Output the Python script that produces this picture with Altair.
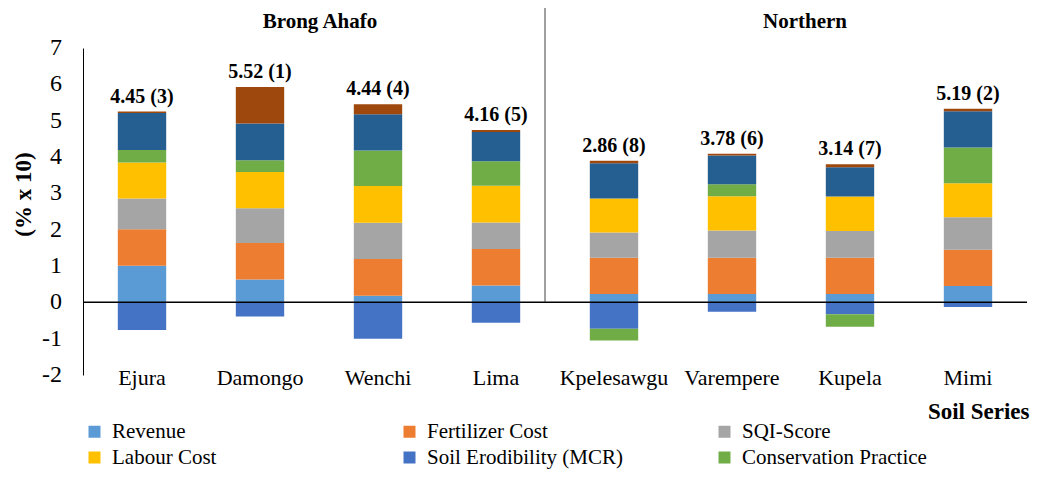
import altair as alt
import pandas as pd

soils = ["Ejura", "Damongo", "Wenchi", "Lima", "Kpelesawgu", "Varempere", "Kupela", "Mimi"]
regions = ["Brong Ahafo", "Northern"]

series_names = ["Revenue", "Fertilizer Cost", "SQI-Score", "Labour Cost",
                "Soil Erodibility (MCR)", "Conservation Practice", "Series 7", "Series 8"]
series_colors = ["#5B9BD5", "#ED7D31", "#A5A5A5", "#FFC000",
                 "#4472C4", "#70AD47", "#255E91", "#9E480E"]
# legend fills column by column: (Revenue, Labour), (Fertilizer, Erodibility), (SQI, Conservation)
legend_names = ["Revenue", "Labour Cost", "Fertilizer Cost",
                "Soil Erodibility (MCR)", "SQI-Score", "Conservation Practice"]

revenue = [1.01, 0.63, 0.18, 0.46, 0.23, 0.23, 0.23, 0.45]
fertilizer = [1.00, 1.00, 1.01, 1.01, 1.00, 1.00, 1.00, 1.00]
sqi = [0.85, 0.96, 1.00, 0.73, 0.69, 0.75, 0.73, 0.89]
labour = [0.99, 1.00, 1.01, 1.01, 0.94, 0.94, 0.95, 0.94]
erodibility = [-0.76, -0.39, -1.00, -0.56, -0.73, -0.26, -0.33, -0.13]
conservation = [0.34, 0.32, 0.98, 0.67, -0.32, 0.33, -0.34, 0.98]
series7 = [1.02, 1.01, 1.00, 0.81, 0.97, 0.79, 0.81, 1.00]
series8 = [0.04, 1.01, 0.27, 0.05, 0.07, 0.05, 0.08, 0.07]

scores = [4.45, 5.52, 4.44, 4.16, 2.86, 3.78, 3.14, 5.19]
ranks = [3, 1, 4, 5, 8, 6, 7, 2]

y_ticks = [-2, -1, 0, 1, 2, 3, 4, 5, 6, 7]

FONT = "Liberation Serif"

all_series = [revenue, fertilizer, sqi, labour, erodibility, conservation, series7, series8]
rows = []
for si, (name, vals) in enumerate(zip(series_names, all_series)):
    for soil, v in zip(soils, vals):
        rows.append({"soil": soil, "series": name, "value": v, "order": si})
df = pd.DataFrame(rows)

tops = [sum(max(s[i], 0) for s in all_series) for i in range(len(soils))]
lab = pd.DataFrame({
    "soil": soils,
    "value": tops,
    "label": [f"{s:.2f} ({r})" for s, r in zip(scores, ranks)],
})
zero_df = pd.DataFrame({"value": [0]})
tick_df = pd.DataFrame({"value": y_ticks, "tick": [str(v) for v in y_ticks]})

W, H = 944, 327

xscale = alt.Scale(domain=soils, paddingInner=0.59, paddingOuter=0.295)
yscale = alt.Scale(domain=[-2, 7], nice=False, zero=False)

x_axis = alt.Axis(title="Soil Series", domain=False, ticks=False,
                  labelAngle=0, labelFont=FONT, labelFontSize=22,
                  labelColor="black", labelBaseline="alphabetic",
                  labelPadding=9,
                  titleFont=FONT, titleFontSize=23, titleFontWeight="bold",
                  titleColor="black", titleAnchor="end", titleAlign="right",
                  titleBaseline="alphabetic", titleX=946, titleY=43)
y_axis = alt.Axis(title="(% x 10)", values=y_ticks,
                  grid=False, ticks=False, labels=False,
                  domainColor="black", domainWidth=1,
                  titleFont=FONT, titleFontSize=23, titleFontWeight="bold",
                  titleColor="black", titleAngle=270, titleAlign="center",
                  titleBaseline="middle", titleX=-60, titleY=146)

bars = alt.Chart(df).mark_bar().encode(
    x=alt.X("soil:N", scale=xscale, sort=soils, axis=x_axis),
    y=alt.Y("value:Q", scale=yscale, stack="zero", axis=y_axis),
    color=alt.Color("series:N",
                    scale=alt.Scale(domain=series_names, range=series_colors),
                    legend=alt.Legend(title=None, values=legend_names, orient="none",
                                      legendX=1, legendY=373, columns=3,
                                      gridAlign="all", columnPadding=90, rowPadding=4,
                                      symbolType="square", symbolSize=144,
                                      symbolStrokeWidth=0, labelOffset=7,
                                      labelFont=FONT, labelFontSize=21,
                                      labelColor="black", labelLimit=400, padding=0)),
    order=alt.Order("order:Q"),
)

# y tick labels, placed through the shared y scale
tick_labels = alt.Chart(tick_df).mark_text(
    font=FONT, fontSize=24, color="black", align="right", baseline="middle"
).encode(
    x=alt.value(-21),
    y=alt.Y("value:Q", scale=yscale, axis=y_axis),
    text="tick:N",
)

zero_line = alt.Chart(zero_df).mark_rule(color="black", strokeWidth=1.5).encode(
    x=alt.value(0), x2=alt.value(W),
    y=alt.Y("value:Q", scale=yscale, axis=y_axis),
)

divider = alt.Chart(zero_df).mark_rule(color="#404040", strokeWidth=1).encode(
    x=alt.value(462), y=alt.value(-48), y2=alt.value(254)
)

labels = alt.Chart(lab).mark_text(font=FONT, fontSize=20, fontWeight="bold",
                                  baseline="alphabetic", dy=-9, color="black").encode(
    x=alt.X("soil:N", scale=xscale, sort=soils, axis=x_axis),
    y=alt.Y("value:Q", scale=yscale, axis=y_axis),
    text="label:N",
)

region_df = pd.DataFrame({"region": regions})
region_a = alt.Chart(region_df).transform_filter(
    alt.datum.region == regions[0]
).mark_text(font=FONT, fontSize=21, fontWeight="bold",
            baseline="alphabetic", color="black").encode(
    x=alt.value(237), y=alt.value(-20), text="region:N",
)
region_b = alt.Chart(region_df).transform_filter(
    alt.datum.region == regions[1]
).mark_text(font=FONT, fontSize=21, fontWeight="bold",
            baseline="alphabetic", color="black").encode(
    x=alt.value(722), y=alt.value(-20), text="region:N",
)

chart = alt.layer(bars, zero_line, divider, labels, tick_labels, region_a, region_b).properties(
    width=W, height=H,
    autosize=alt.AutoSizeParams(type="none"),
    padding={"left": 75, "top": 40, "right": 3, "bottom": 94},
).configure_view(stroke=None)

chart.save("out.html", embed_options={"renderer": "svg", "actions": False})
